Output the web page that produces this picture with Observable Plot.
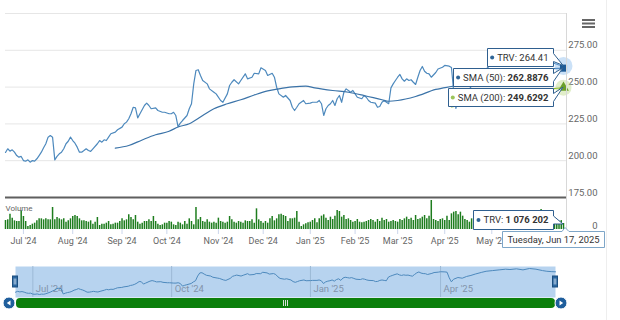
<!DOCTYPE html>
<html><head><meta charset="utf-8">
<script src="https://cdn.jsdelivr.net/npm/d3@7"></script>
<script src="https://cdn.jsdelivr.net/npm/@observablehq/plot@0.6"></script>
<style>
html,body{margin:0;padding:0;background:#fff;}
#chart{position:relative;width:620px;height:320px;overflow:hidden;font-family:Roboto,sans-serif;}
#chart svg{position:absolute;left:0;top:0;}
</style></head><body><div id="chart"></div>
<script>
// ---------- DATA ----------
const ticker = "TRV";
const firstSession = "2024-06-18";
const lastSession = "2025-06-17";
const holidays = ["2024-06-19","2024-07-04","2024-09-02","2024-11-28","2024-12-25","2025-01-01","2025-01-09","2025-01-20","2025-02-17","2025-04-18","2025-05-26"];

// closing price, keyed by trading-session number counted from firstSession
const priceSession = [0,1,2,3,4,5,6,7,8,9,10,11,12,13,14,15,16,17,18,19,20,21,22,23,24,25,26,27,28,29,30,31,32,33,34,35,36,37,38,39,41,42,43,44,45,46,47,49,50,52,53,54,55,56,57,58,59,60,62,63,64,65,67,68,70,71,73,74,75,76,77,78,79,81,82,83,84,85,86,87,88,90,91,93,94,96,97,99,100,101,102,104,105,107,108,110,111,113,114,116,117,119,120,121,122,124,125,127,128,129,130,131,133,134,136,137,139,140,141,142,143,144,145,146,147,148,149,150,151,152,153,154,155,156,157,159,160,161,162,163,165,166,167,168,169,170,171,172,173,174,175,176,177,178,179,180,181,182,183,184,185,186,187,188,189,190,192,193,195,196,198,199,200,201,202,204,206,208,210,212,215,217,220,223,226,228,231,234,237,240,243,245,247,249];
const priceClose = [205.6,208.1,206.5,207.4,205.8,203.5,202.4,202.9,200.1,199.7,200.6,199.0,200.1,199.7,201.3,203.5,205.8,208.8,211.5,216.0,217.1,216.0,200.6,202.9,204.7,205.8,208.1,211.5,213.2,216.0,213.7,211.9,209.2,205.8,205.8,206.9,208.1,206.9,206.3,208.1,211.5,213.7,212.6,214.2,213.7,216.0,218.3,219.4,221.0,222.8,225.1,226.2,228.5,231.9,236.3,235.9,229.1,231.9,237.5,239.1,237.5,235.3,235.9,234.1,232.9,232.9,231.9,231.9,232.9,230.7,223.2,225.5,227.3,230.7,235.3,238.7,252.2,261.3,261.8,257.9,254.5,252.2,248.8,246.5,245.4,240.9,239.7,245.4,251.1,253.3,255.0,252.2,254.5,259.0,255.6,256.7,259.4,259.0,263.1,261.3,257.9,259.4,256.7,249.9,245.4,243.1,244.3,240.9,236.3,234.1,236.3,238.7,240.9,238.7,239.1,239.7,239.7,240.9,238.7,230.7,235.3,237.5,238.7,240.9,237.5,242.1,244.3,239.7,246.5,248.8,247.7,246.5,247.7,245.4,243.1,242.1,244.3,243.1,240.9,239.7,239.1,236.3,236.8,239.7,240.9,239.7,238.7,249.5,252.2,254.5,256.7,258.6,255.6,254.0,255.6,254.5,255.0,253.3,251.8,256.7,261.3,264.0,260.8,259.4,259.0,256.7,259.9,262.3,263.5,264.7,264.2,263.3,247,235.5,243,248,246,251,254,258,263,266,268,270,272,271,273,270,274,272,268,266,265,264.41];

const sma50Session = [49,55,61,67,73,77,82,88,93,99,105,111,117,122,128,134,138,146,153,160,168,171,175,183,192,199,205,212,220,228,236,243,249];
const sma50Value = [208.5,210.3,214.1,217.6,220.0,222.9,225.1,230.7,235.3,238.7,241.4,244.6,247.4,248.8,250.1,250.7,249.5,247.7,246.5,244.3,241.4,240.4,240.9,243.6,248.4,250.4,252,254.5,257,259.5,261.5,262.5,262.8876];

const sma200Session = [199,205,212,220,228,236,243,249];
const sma200Value = [236.5,238.3,240.5,243,245.3,247.3,248.6,249.6292];

// daily volume, millions of shares, one per session
const volumeM = [1.62,
1.74,2.76,2.04,1.56,1.44,1.44,3.36,2.34,1.44,0.54,
0.72,0.96,1.14,1.56,1.92,1.92,1.74,1.92,1.74,1.74,
3.96,1.74,2.16,1.92,1.74,1.92,1.32,1.56,1.92,2.34,
2.52,2.34,1.92,1.56,1.56,1.44,1.32,1.56,0.96,1.32,
2.16,0.72,0.96,0.96,1.14,1.44,0.84,0.96,1.14,1.14,
1.44,1.92,1.56,1.74,2.64,2.16,1.74,2.52,1.32,0.96,
1.14,1.44,1.44,1.74,1.44,2.34,1.44,0.96,0.72,0.84,
1.14,1.14,1.44,1.32,0.84,0.72,1.32,1.14,0.84,1.44,
0.96,1.92,1.44,0.84,3.96,1.74,2.16,1.44,1.32,1.74,
1.32,1.14,1.32,1.14,2.04,1.44,1.32,1.14,1.32,2.34,
1.74,1.32,1.14,1.44,1.32,1.14,1.56,1.44,1.44,1.74,
1.14,3.72,1.74,1.44,1.14,1.44,1.14,1.92,2.34,1.56,
1.92,2.64,2.76,2.52,2.34,1.44,1.92,1.92,2.04,3.24,
1.32,0.54,
0.84,1.02,1.2,1.32,1.62,1.92,1.2,1.92,2.4,
2.64,2.04,1.62,2.22,1.8,2.4,3.42,3.24,2.22,2.52,
1.8,1.92,1.62,1.32,1.44,1.8,1.32,1.2,1.32,1.44,
1.62,1.8,1.62,1.32,1.8,1.44,2.04,1.62,1.8,1.32,
1.44,1.62,1.44,1.32,1.8,1.62,1.92,2.22,1.8,2.04,
1.62,2.52,1.8,1.92,2.22,2.52,1.92,2.4,5.22,1.8,
1.62,1.44,1.8,1.92,1.62,2.4,1.62,2.82,3.12,3.24,
2.64,3.12,2.4,1.8,1.62,1.32,1.92,1.62,
1.9,1.7,1.6,1.8,2.0,1.5,1.4,1.6,1.5,1.3,
1.4,1.2,1.3,1.5,1.4,1.2,1.3,1.6,1.4,1.3,
1.2,1.4,1.3,1.1,1.5,1.4,1.6,2.2,1.5,3.6,
1.4,1.3,1.2,1.1,1.3,1.2,1.4,1.5,1.6,1.076202];

const priceTicks = [175,200,225,250,275];
const priceGrid = [200,225,250,275,300];
const monthTickDates = ["2024-07-01","2024-08-01","2024-09-03","2024-10-01","2024-11-01","2024-12-02","2025-01-02","2025-02-03","2025-03-03","2025-04-01","2025-05-01"];
const monthTickLabels = ["Jul '24","Aug '24","Sep '24","Oct '24","Nov '24","Dec '24","Jan '25","Feb '25","Mar '25","Apr '25","May '25"];
const navTickDates = ["2024-07-01","2024-10-01","2025-01-02","2025-04-01"];
const navTickLabels = ["Jul '24","Oct '24","Jan '25","Apr '25"];

// ---------- BUILD ----------
const W = 620, H = 320, FONT = "Roboto, sans-serif";
const fmtDay = d3.utcFormat("%Y-%m-%d");
const sessions = d3.utcDay.range(new Date(firstSession), d3.utcDay.offset(new Date(lastSession), 1))
  .filter(d => { const w = d.getUTCDay(); return w !== 0 && w !== 6 && !holidays.includes(fmtDay(d)); });
const sIndex = new Map(sessions.map((d, i) => [fmtDay(d), i]));
const last = sessions.length - 1;

const price = priceSession.map((s, i) => ({s, v: priceClose[i]}));
const sma50 = sma50Session.map((s, i) => ({s, v: sma50Value[i]}));
const sma200 = sma200Session.map((s, i) => ({s, v: sma200Value[i]}));
const vol = volumeM.map((v, s) => ({s, v}));
const monthTicks = monthTickDates.map((d, i) => ({s: sIndex.get(d), label: monthTickLabels[i]}));
const navTicks = navTickDates.map((d, i) => ({s: sIndex.get(d), label: navTickLabels[i]}));
const lastPrice = price[price.length - 1], last50 = sma50[sma50.length - 1], last200 = sma200[sma200.length - 1];
const lastVol = vol[vol.length - 1];

const style = {background: "transparent", fontFamily: FONT, overflow: "visible"};
const X = {type: "linear", domain: [0, last], range: [5, 563]};

const pricePlot = Plot.plot({
  width: W, height: H, marginTop: 13, marginBottom: 123, marginLeft: 5, marginRight: 54, style,
  x: {...X, axis: null}, y: {domain: [175, 300], axis: null},
  marks: [
    Plot.ruleY(priceGrid, {stroke: "#e6e6e6"}),
    Plot.ruleY([175], {stroke: "#5f5f5f", strokeWidth: 2}),
    Plot.text(priceTicks, {y: d => d, text: d => d3.format(".2f")(d), frameAnchor: "right", textAnchor: "end", dx: 31, dy: -5, fill: "#666", fontSize: 9.5}),
    Plot.line(price, {x: "s", y: "v", stroke: "#4d89bd", strokeWidth: 1.2}),
    Plot.line(sma50, {x: "s", y: "v", stroke: "#3b73a8", strokeWidth: 1.2, curve: "monotone-x"}),
    Plot.line(sma200, {x: "s", y: "v", stroke: "#8bbc21", strokeWidth: 1.2, curve: "monotone-x"}),
    Plot.dot([lastPrice], {x: "s", y: "v", r: 9, fill: "#7cb5ec", fillOpacity: 0.4}),
    Plot.dot([last200], {x: "s", y: "v", r: 8, fill: "#bcd98a", fillOpacity: 0.45}),
    Plot.dot([last50], {x: "s", y: "v", symbol: "square", r: 4, fill: "#1d5a96"}),
    Plot.dot([last200], {x: "s", y: "v", symbol: "triangle", r: 4, fill: "#6b9f2a"})
  ]
});

const volPlot = Plot.plot({
  width: W, height: H, marginTop: 199, marginBottom: 91, marginLeft: 5, marginRight: 54, style,
  x: {...X, label: null}, y: {domain: [0, 5.4], axis: null},
  marks: [
    Plot.ruleX(vol, {x: "s", y1: 0, y2: "v", stroke: "#1e7d1e", strokeWidth: 1.5}),
    Plot.axisX({ticks: monthTicks.map(d => d.s), tickFormat: s => monthTicks.find(t => t.s === s).label,
      label: null, tickSize: 5, tickPadding: 3, stroke: "#ccd6eb", fill: "#666", fontSize: 9}),
    Plot.text(["Volume"], {text: d => d, frameAnchor: "top-left", dy: 6, textAnchor: "start", fill: "#666", fontSize: 8}),
    Plot.text([0], {y: d => d, text: d => String(d), frameAnchor: "right", textAnchor: "end", dx: 31, dy: -4, fill: "#666", fontSize: 9.5})
  ]
});

const navPlot = Plot.plot({
  width: W, height: H, marginTop: 266, marginBottom: 23, marginLeft: 15, marginRight: 65, style,
  x: {type: "linear", domain: [0, last], range: [15, 555], axis: null},
  y: {domain: d3.extent(priceClose), range: [294, 268], axis: null},
  marks: [
    Plot.frame({fill: "#b7d3ef", stroke: "none"}),
    Plot.ruleX(navTicks, {x: "s", stroke: "#9cb9d6"}),
    Plot.text(navTicks, {x: "s", text: "label", frameAnchor: "bottom", dx: 3, dy: -6, textAnchor: "start", fill: "#8393aa", fontSize: 9.5}),
    Plot.line(price, {x: "s", y: "v", stroke: "#4d89bd", strokeWidth: 1})
  ]
});

const root = document.getElementById("chart");
root.append(pricePlot, volPlot, navPlot);

// ---------- OVERLAY (tooltips, navigator chrome) ----------
const ov = d3.select(root).append("svg").attr("width", W).attr("height", H)
  .style("font-family", FONT).style("font-size", "9.5px");
const xs = pricePlot.scale("x"), ys = pricePlot.scale("y"), vys = volPlot.scale("y"), nx = navPlot.scale("x");
const ax = xs.apply(last);
const frameRight = W - 54;

ov.append("line").attr("x1", frameRight + 0.5).attr("x2", frameRight + 0.5).attr("y1", 13).attr("y2", 229).attr("stroke", "#d8d8d8");
ov.append("line").attr("x1", 606.5).attr("x2", 606.5).attr("y1", 0).attr("y2", H).attr("stroke", "#eeeeee");

// hamburger
[19, 22.5, 26].forEach(y => ov.append("rect").attr("x", 582).attr("y", y).attr("width", 13).attr("height", 2).attr("fill", "#666"));

function tip({top, h, right, apexX, apexY, parts, dot, border}) {
  const g = ov.append("g");
  const path = g.append("path").attr("fill", "#fff").attr("stroke", border).attr("stroke-width", 1);
  const cy = top + h / 2;
  const t = g.append("text").attr("x", right - 5).attr("y", cy).attr("dy", "0.35em").attr("text-anchor", "end").attr("fill", "#333");
  parts.forEach(p => t.append("tspan").text(p.text).attr("font-weight", p.bold ? 700 : 400));
  const w = t.node().getComputedTextLength();
  const cx = right - 5 - w - 5;
  g.append("circle").attr("cx", cx).attr("cy", cy).attr("r", 2).attr("fill", dot);
  const left = Math.round(cx - 5) + 0.5, bottom = top + h;
  path.attr("d", `M${left},${top}H${right}V${cy - 4}L${apexX},${apexY}L${right},${cy + 4}V${bottom}H${left}Z`);
}

const tipRight = Math.round(ax - 10) + 0.5;
const top0 = Math.round(ys.apply(lastPrice.v)) - 17 + 0.5;
tip({top: top0, h: 18, right: tipRight, apexX: ax, apexY: ys.apply(lastPrice.v),
  parts: [{text: `${ticker}: `}, {text: d3.format(".2f")(lastPrice.v)}], dot: "#2f6597", border: "#2f5f8f"});
tip({top: top0 + 20, h: 18, right: tipRight, apexX: ax, apexY: ys.apply(last50.v),
  parts: [{text: "SMA (50): "}, {text: d3.format(".4f")(last50.v), bold: true}], dot: "#2f6597", border: "#2f5f8f"});
tip({top: top0 + 40, h: 18, right: tipRight, apexX: ax, apexY: ys.apply(last200.v),
  parts: [{text: "SMA (200): "}, {text: d3.format(".4f")(last200.v), bold: true}], dot: "#9cc45a", border: "#2f5f8f"});
tip({top: Math.round(vys.apply(lastVol.v)) - 13 + 0.5, h: 19, right: tipRight, apexX: ax, apexY: vys.apply(lastVol.v) + 1,
  parts: [{text: `${ticker}: `}, {text: d3.format(",")(Math.round(lastVol.v * 1e6)).replace(/,/g, " "), bold: true}], dot: "#2f6597", border: "#2f5f8f"});

// date header
{
  const g = ov.append("g");
  const path = g.append("path").attr("fill", "#fff").attr("stroke", "#7ea6c8");
  const t = g.append("text").attr("text-anchor", "middle").attr("fill", "#333").attr("font-size", 9.4)
    .text(d3.utcFormat("%A, %b %-d, %Y")(sessions[last]));
  const w = t.node().getComputedTextLength() + 10;
  const right = Math.round(Math.min(ax + w / 2, 604)) + 0.5, left = right - Math.round(w);
  const top = 231.5, bottom = 247.5;
  t.attr("x", (left + right) / 2).attr("y", (top + bottom) / 2).attr("dy", "0.35em");
  const px = ax + 2;
  path.attr("d", `M${left},${top}H${px - 3}L${px},${top - 4}L${px + 4},${top}H${right}V${bottom}H${left}Z`);
}

// navigator handles + scrollbar
const nL = nx.apply(0), nR = nx.apply(last);
ov.append("rect").attr("x", nL + 1).attr("y", 298).attr("width", nR - nL - 1).attr("height", 10).attr("rx", 4).attr("fill", "#0b7f0b");
[-2, 0, 2].forEach(d => ov.append("line").attr("x1", (nL + nR) / 2 + d + 0.5).attr("x2", (nL + nR) / 2 + d + 0.5)
  .attr("y1", 300).attr("y2", 306).attr("stroke", "#d8e0d8"));
[[nL - 6, -1], [nR + 6, 1]].forEach(([cx, dir]) => {
  ov.append("circle").attr("cx", cx).attr("cy", 303).attr("r", 6).attr("fill", "#1f5e9c").attr("stroke", "#fff").attr("stroke-width", 1);
  ov.append("path").attr("d", `M${cx + dir * 2.2},303L${cx - dir * 1.5},300.6L${cx - dir * 1.5},305.4Z`).attr("fill", "#fff");
});
[nL, nR].forEach(x => {
  ov.append("rect").attr("x", x - 2.5).attr("y", 276).attr("width", 5).attr("height", 11).attr("fill", "#2b67a0").attr("stroke", "#1c4f80");
  [-0.8, 0.8].forEach(d => ov.append("line").attr("x1", x + d).attr("x2", x + d).attr("y1", 278.5).attr("y2", 284.5).attr("stroke", "#cfe0f0").attr("stroke-width", 0.8));
});
</script></body></html>
